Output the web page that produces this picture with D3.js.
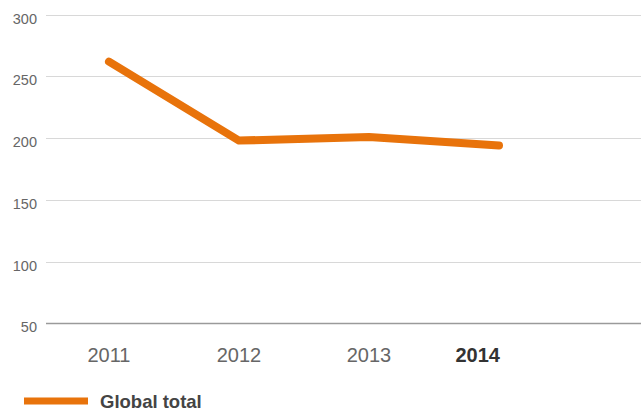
<!DOCTYPE html>
<html>
<head>
<meta charset="utf-8">
<script src="https://cdn.jsdelivr.net/npm/d3@7"></script>
<style>
  html, body { margin: 0; padding: 0; background: #fff; }
  text { font-family: "Liberation Sans", Arial, Helvetica, sans-serif; }
</style>
</head>
<body>
<script>
const years = ["2011", "2012", "2013", "2014"];
const globalTotal = [262, 198, 201, 194];
const yTicks = [50, 100, 150, 200, 250, 300];
const seriesName = "Global total";
const currentYear = "2014";

const W = 641, H = 410;
const svg = d3.select("body").append("svg").attr("width", W).attr("height", H);

const gridLeft = 46, gridRight = 641;
const x = d3.scalePoint().domain(years).range([109, 499]);
const y = d3.scaleLinear().domain([50, 300]).range([323.3, 14.7]);

// gridlines
svg.append("g").selectAll("line").data(yTicks).join("line")
  .attr("x1", gridLeft).attr("x2", gridRight)
  .attr("y1", d => Math.round(y(d)) + 0.5).attr("y2", d => Math.round(y(d)) + 0.5)
  .attr("stroke", d => d === 50 ? "#9a9a9a" : "#d8d8d8")
  .attr("stroke-width", d => d === 50 ? 1.3 : 1.2);

// y labels
svg.append("g").selectAll("text").data(yTicks).join("text")
  .attr("x", 37).attr("y", d => y(d) + 9)
  .attr("text-anchor", "end")
  .attr("font-size", 14.5).attr("fill", "#666")
  .text(d => d);

// x labels
svg.append("g").selectAll("text").data(years).join("text")
  .attr("x", d => x(d) + (d === currentYear ? 1 : 0))
  .attr("y", 361.5)
  .attr("text-anchor", d => d === currentYear ? "end" : "middle")
  .attr("font-size", 20)
  .attr("font-weight", d => d === currentYear ? "bold" : "normal")
  .attr("fill", d => d === currentYear ? "#333" : "#666")
  .text(d => d);

// line
const line = d3.line().x((d, i) => x(years[i])).y(d => y(d));
svg.append("path").datum(globalTotal)
  .attr("d", line)
  .attr("fill", "none")
  .attr("stroke", "#e8730b")
  .attr("stroke-width", 8)
  .attr("stroke-linecap", "round")
  .attr("stroke-linejoin", "round");

// legend
const lg = svg.append("g");
lg.append("rect").attr("x", 24).attr("y", 397.5).attr("width", 64).attr("height", 7).attr("fill", "#e8730b");
lg.append("text").attr("x", 100).attr("y", 407.5)
  .attr("font-size", 18.5).attr("font-weight", "bold").attr("fill", "#444")
  .text(seriesName);
</script>
</body>
</html>
